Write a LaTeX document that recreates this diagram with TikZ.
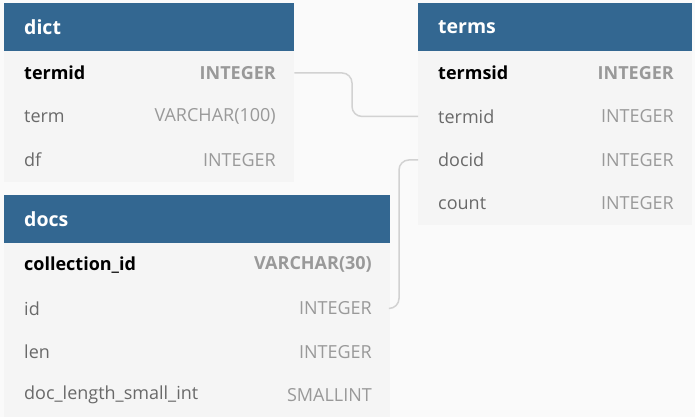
\documentclass[tikz,border=0pt]{standalone}
\usepackage{fontspec}
\setmainfont{Open Sans}
\definecolor{hdr}{HTML}{336791}
\definecolor{bodyc}{HTML}{F5F5F5}
\definecolor{bgc}{HTML}{FAFAFA}
\definecolor{namec}{HTML}{696969}
\definecolor{typec}{HTML}{999999}
\definecolor{linec}{HTML}{D2D2D2}
\begin{document}
\begin{tikzpicture}[x=1pt,y=-1pt,
  hdrbox/.style={fill=hdr,inner sep=0pt,anchor=north west,minimum height=48pt},
  rowbox/.style={fill=bodyc,inner sep=0pt,anchor=north west,minimum height=43.5pt},
  hdrtext/.style={anchor=west,inner sep=0pt,text=white,font=\fontsize{19.5}{22}\selectfont\bfseries},
  keyname/.style={anchor=west,inner sep=0pt,text=black,font=\fontsize{18}{20}\selectfont\bfseries},
  keytype/.style={anchor=east,inner sep=0pt,text=typec,font=\fontsize{18}{20}\selectfont\bfseries},
  fname/.style={anchor=west,inner sep=0pt,text=namec,font=\fontsize{18}{20}\selectfont},
  ftype/.style={anchor=east,inner sep=0pt,text=typec,font=\fontsize{18}{20}\selectfont},
  conn/.style={draw=linec,line width=1.5pt,rounded corners=10pt}]
\fill[bgc] (0,0) rectangle (695,417);
\useasboundingbox (0,0) rectangle (695,417);
% dict
\node[hdrbox,minimum width=290pt] (dh) at (4,3) {};
\node[hdrtext] (dt) at (24,27) {dict};
\node[rowbox,minimum width=290pt] (d1) at (4,51) {};
\node[rowbox,minimum width=290pt] (d2) at (4,94.5) {};
\node[rowbox,minimum width=290pt] (d3) at (4,138) {};
\node[keyname] (d1n) at (24,72.75) {termid};
\node[keytype] (d1t) at (276,72.75) {INTEGER};
\node[fname] (d2n) at (24,116.25) {term};
\node[ftype] (d2t) at (276,116.25) {VARCHAR(100)};
\node[fname] (d3n) at (24,159.75) {df};
\node[ftype] (d3t) at (276,159.75) {INTEGER};
% terms
\node[hdrbox,minimum width=274pt] (th) at (418,3) {};
\node[hdrtext] (tt) at (438,27) {terms};
\node[rowbox,minimum width=274pt] (t1) at (418,51) {};
\node[rowbox,minimum width=274pt] (t2) at (418,94.5) {};
\node[rowbox,minimum width=274pt] (t3) at (418,138) {};
\node[rowbox,minimum width=274pt] (t4) at (418,181.5) {};
\node[keyname] (t1n) at (438,72.75) {termsid};
\node[keytype] (t1t) at (674,72.75) {INTEGER};
\node[fname] (t2n) at (438,116.25) {termid};
\node[ftype] (t2t) at (674,116.25) {INTEGER};
\node[fname] (t3n) at (438,159.75) {docid};
\node[ftype] (t3t) at (674,159.75) {INTEGER};
\node[fname] (t4n) at (438,203.25) {count};
\node[ftype] (t4t) at (674,203.25) {INTEGER};
% docs
\node[hdrbox,minimum width=386pt] (oh) at (4,195) {};
\node[hdrtext] (ot) at (24,219) {docs};
\node[rowbox,minimum width=386pt] (o1) at (4,243) {};
\node[rowbox,minimum width=386pt] (o2) at (4,286.5) {};
\node[rowbox,minimum width=386pt] (o3) at (4,330) {};
\node[rowbox,minimum width=386pt] (o4) at (4,373.5) {};
\node[keyname] (o1n) at (24,264.75) {collection\_id};
\node[keytype] (o1t) at (372,264.75) {VARCHAR(30)};
\node[fname] (o2n) at (24,308.25) {id};
\node[ftype] (o2t) at (372,308.25) {INTEGER};
\node[fname] (o3n) at (24,351.75) {len};
\node[ftype] (o3t) at (372,351.75) {INTEGER};
\node[fname] (o4n) at (24,395.25) {doc\_length\_small\_int};
\node[ftype] (o4t) at (372,395.25) {SMALLINT};
% connectors
\draw[conn] (d1.east) -- (352,0 |- d1.east) -- (352,0 |- t2.west) -- (t2.west);
\draw[conn] (o2.east) -- (399,0 |- o2.east) -- (399,0 |- t3.west) -- (t3.west);
\end{tikzpicture}
\end{document}
